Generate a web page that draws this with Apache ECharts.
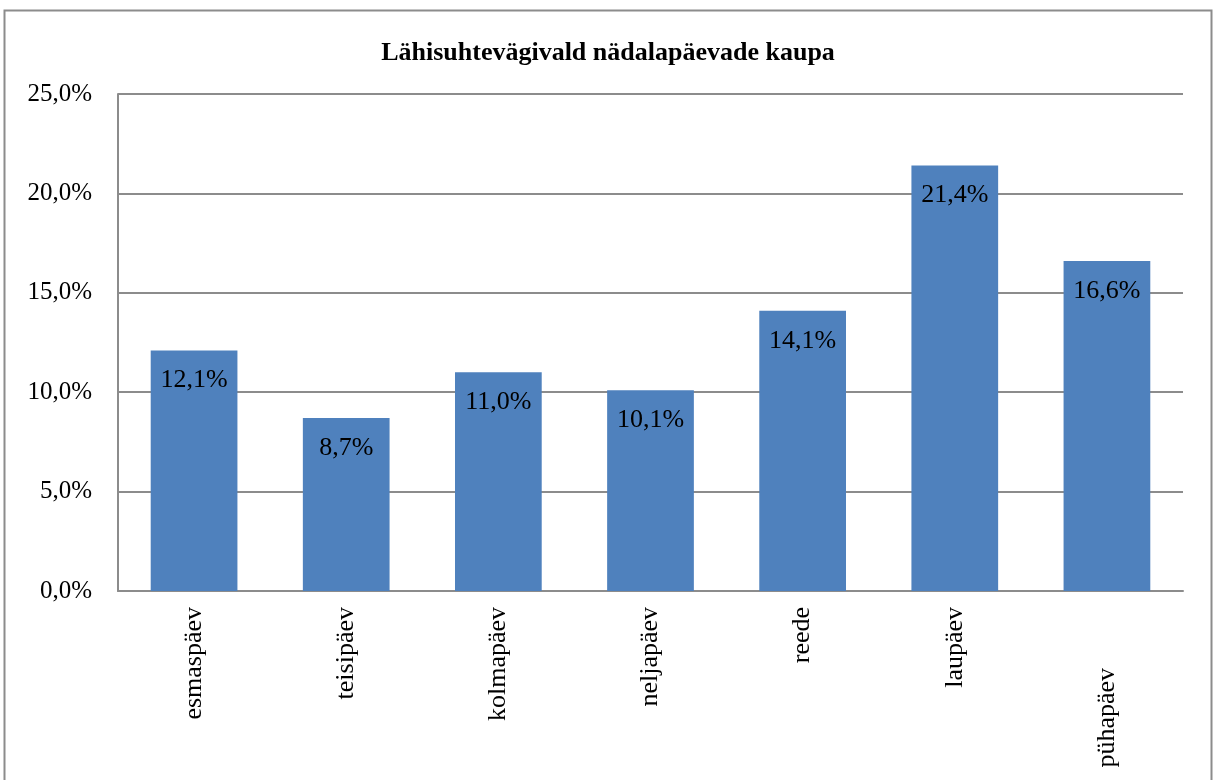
<!DOCTYPE html>
<html>
<head>
<meta charset="utf-8">
<script src="https://cdn.jsdelivr.net/npm/echarts@6/dist/echarts.min.js"></script>
<style>
  html, body { margin: 0; padding: 0; background: #fff; }
  #chart { width: 1216px; height: 780px; }
</style>
</head>
<body>
<div id="chart"></div>
<script>
const days = ["esmaspäev", "teisipäev", "kolmapäev", "neljapäev", "reede", "laupäev", "pühapäev"];
const shares = [12.1, 8.7, 11.0, 10.1, 14.1, 21.4, 16.6];
const yTicks = [0, 5, 25];

const serif = "'Liberation Serif', 'DejaVu Serif', serif";
const fmt = (v) => v.toFixed(1).replace(".", ",") + "%";

const chart = echarts.init(document.getElementById("chart"));
const option = {
  backgroundColor: "#fff",
  animation: false,
  title: {
    text: "Lähisuhtevägivald nädalapäevade kaupa",
    left: "center",
    top: 35,
    textStyle: { fontFamily: serif, fontWeight: "bold", fontSize: 26, color: "#000" },
  },
  graphic: [
    {
      type: "rect",
      shape: { x: 4.5, y: 10.5, width: 1207, height: 800 },
      style: { fill: "none", stroke: "#8c8c8c", lineWidth: 2 },
      silent: true,
    },
  ],
  grid: { left: 118, right: 33, top: 94, bottom: 189 },
  xAxis: {
    type: "category",
    data: days.map((d) =>
      d === "pühapäev" ? { value: d, textStyle: { padding: [0, 61, 0, 0] } } : d
    ),
    axisLine: { lineStyle: { color: "#8c8c8c", width: 2 } },
    axisTick: { show: false },
    axisLabel: {
      rotate: 90,
      margin: 16,
      fontFamily: serif,
      fontSize: 26,
      color: "#000",
      interval: 0,
    },
  },
  yAxis: {
    type: "value",
    min: yTicks[0],
    max: yTicks[2],
    interval: yTicks[1],
    axisLine: { show: true, lineStyle: { color: "#8c8c8c", width: 2 } },
    axisTick: { show: false },
    splitLine: { lineStyle: { color: "#8c8c8c", width: 2 } },
    axisLabel: {
      margin: 26,
      fontFamily: serif,
      fontSize: 25,
      color: "#000",
      formatter: fmt,
    },
  },
  series: [
    {
      type: "bar",
      data: shares,
      barWidth: "57%",
      itemStyle: { color: "#4f81bd" },
      label: {
        show: true,
        position: "insideTop",
        distance: 17,
        fontFamily: serif,
        fontSize: 26,
        color: "#000",
        formatter: (p) => fmt(p.value),
      },
    },
  ],
};
chart.setOption(option);
</script>
</body>
</html>
